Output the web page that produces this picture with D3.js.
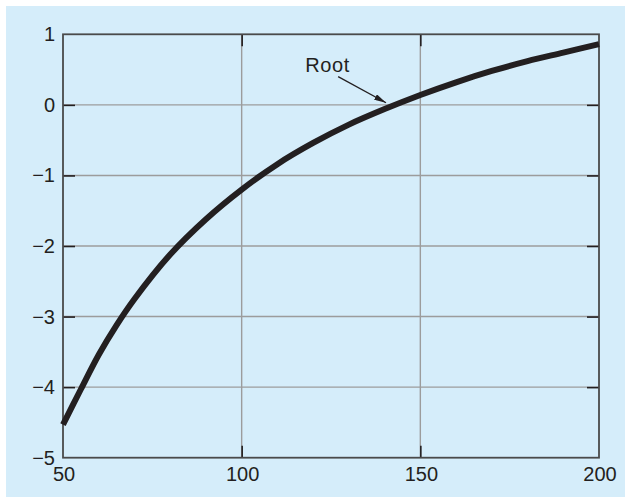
<!DOCTYPE html>
<html>
<head>
<meta charset="utf-8">
<script src="https://cdn.jsdelivr.net/npm/d3@7"></script>
<style>
  html, body { margin: 0; padding: 0; background: #fff; }
  text { font-family: "Liberation Sans", Arial, sans-serif; fill: #231f20; }
</style>
</head>
<body>
<div id="container"></div>
<script>
// data
const massValues = [50, 55, 60, 65, 70, 80, 90, 100, 110, 120, 130, 140, 150, 160, 170, 180, 190, 200];
const fValues = [-4.53, -4.03, -3.54, -3.12, -2.75, -2.12, -1.62, -1.2, -0.84, -0.54, -0.28, -0.06, 0.14, 0.32, 0.48, 0.62, 0.74, 0.86];
const xTicks = [50, 100, 150, 200];
const yTicks = [1, 0, -1, -2, -3, -4, -5];
const rootLabel = "Root";

const width = 625;
const height = 497;
const margin = { top: 34.3, right: 26, bottom: 39.3, left: 63 };

const svg = d3
  .select("#container")
  .append("svg")
  .attr("width", width)
  .attr("height", height);

// light blue panel
svg.append("rect")
  .attr("x", 6).attr("y", 6)
  .attr("width", width - 6).attr("height", height - 6)
  .attr("fill", "#d5edfa");

const xScale = d3.scaleLinear().domain([50, 200]).range([margin.left, width - margin.right]);
const yScale = d3.scaleLinear().domain([-5, 1]).range([height - margin.bottom, margin.top]);

// grid lines
svg.append("g")
  .selectAll("line")
  .data(xTicks.slice(1, -1))
  .enter()
  .append("line")
  .attr("x1", d => xScale(d)).attr("x2", d => xScale(d))
  .attr("y1", yScale(1)).attr("y2", yScale(-5))
  .attr("stroke", "#9c9c9c").attr("stroke-width", 1.4);
svg.append("g")
  .selectAll("line")
  .data(yTicks.slice(1, -1))
  .enter()
  .append("line")
  .attr("x1", xScale(50)).attr("x2", xScale(200))
  .attr("y1", d => yScale(d)).attr("y2", d => yScale(d))
  .attr("stroke", "#9c9c9c").attr("stroke-width", 1.4);

// axes (inner ticks on all four sides)
const tickLen = 12;
const axisLeft = d3.axisRight(yScale).tickValues(yTicks.slice(1, -1)).tickSize(tickLen).tickFormat("");
const axisRight = d3.axisLeft(yScale).tickValues(yTicks.slice(1, -1)).tickSize(tickLen).tickFormat("");
const axisBottom = d3.axisTop(xScale).tickValues(xTicks.slice(1, -1)).tickSize(tickLen).tickFormat("");
const axisTop = d3.axisBottom(xScale).tickValues(xTicks.slice(1, -1)).tickSize(tickLen).tickFormat("");
[
  [axisLeft, `translate(${xScale(50)},0)`],
  [axisRight, `translate(${xScale(200)},0)`],
  [axisBottom, `translate(0,${yScale(-5)})`],
  [axisTop, `translate(0,${yScale(1)})`]
].forEach(([ax, tr]) => {
  const g = svg.append("g").attr("transform", tr).call(ax);
  g.select(".domain").remove();
  g.selectAll("line").attr("stroke", "#231f20").attr("stroke-width", 1.6);
});

// frame
svg.append("rect")
  .attr("x", xScale(50)).attr("y", yScale(1))
  .attr("width", xScale(200) - xScale(50))
  .attr("height", yScale(-5) - yScale(1))
  .attr("fill", "none")
  .attr("stroke", "#4a4a4a")
  .attr("stroke-width", 1.8);

// tick labels
svg.append("g")
  .selectAll("text")
  .data(yTicks)
  .enter()
  .append("text")
  .attr("x", xScale(50) - 8)
  .attr("y", d => yScale(d) + 7)
  .attr("text-anchor", "end")
  .style("font-size", "20px")
  .text(d => (d < 0 ? "\u2212" + Math.abs(d) : d));
svg.append("g")
  .selectAll("text")
  .data(xTicks)
  .enter()
  .append("text")
  .attr("x", d => xScale(d) + 1)
  .attr("y", yScale(-5) + 23)
  .attr("text-anchor", "middle")
  .style("font-size", "20px")
  .text(d => d);

// curve
const points = massValues.map((m, i) => [m, fValues[i]]);
const line = d3.line()
  .x(d => xScale(d[0]))
  .y(d => yScale(d[1]))
  .curve(d3.curveCatmullRom);
svg.append("path")
  .datum(points)
  .attr("d", line)
  .attr("fill", "none")
  .attr("stroke", "#231f20")
  .attr("stroke-width", 6);

// root annotation
svg.append("defs").append("marker")
  .attr("id", "arrow")
  .attr("viewBox", "0 0 12 6")
  .attr("refX", 12).attr("refY", 3)
  .attr("markerWidth", 12).attr("markerHeight", 6)
  .attr("markerUnits", "userSpaceOnUse")
  .attr("orient", "auto")
  .append("path")
  .attr("d", "M0,0 L12,3 L0,6 Z")
  .attr("fill", "#231f20");
svg.append("line")
  .attr("x1", xScale(127)).attr("y1", yScale(0.4))
  .attr("x2", xScale(140.4)).attr("y2", yScale(0.03))
  .attr("stroke", "#231f20")
  .attr("stroke-width", 1.3)
  .attr("marker-end", "url(#arrow)");
svg.append("text")
  .attr("x", xScale(117.8))
  .attr("y", yScale(0.46))
  .style("font-size", "20px")
  .style("letter-spacing", "0.6px")
  .text(rootLabel);
</script>
</body>
</html>
